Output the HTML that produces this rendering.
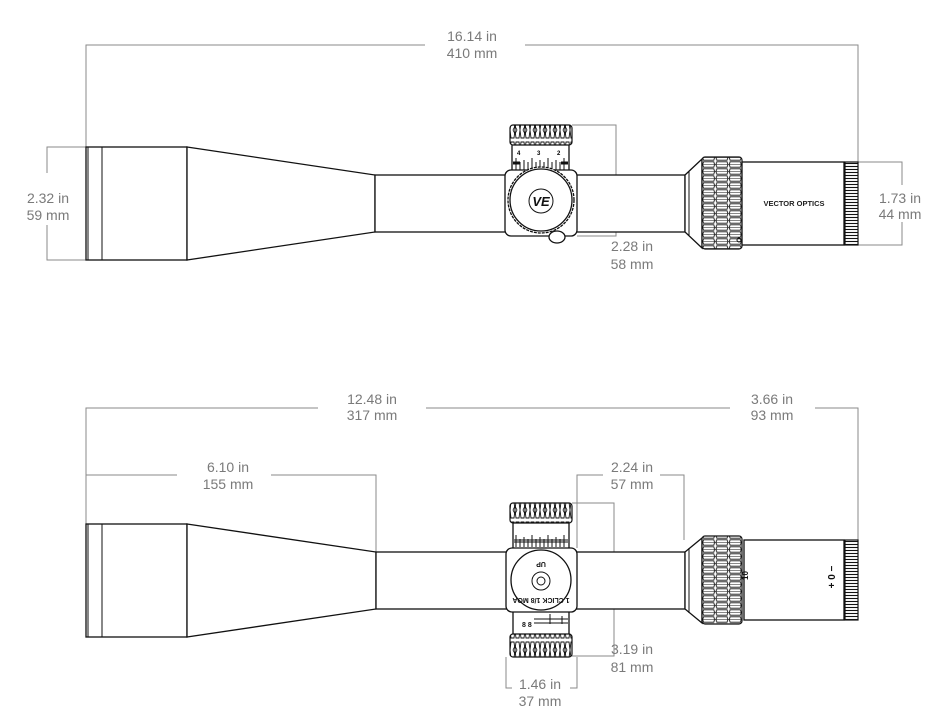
<!DOCTYPE html>
<html><head><meta charset="utf-8"><style>
html,body{margin:0;padding:0;background:#fff;}
svg{display:block;}
.t{font-family:"Liberation Sans",sans-serif;font-size:14px;fill:#7a7a7a;text-anchor:middle;}
.d{stroke:#8a8a8a;stroke-width:1;fill:none;}
.s{stroke:#111;stroke-width:1.3;fill:#fff;}
.n{stroke:#111;stroke-width:1;fill:none;}
</style></head><body>
<svg width="949" height="728" viewBox="0 0 949 728" xmlns="http://www.w3.org/2000/svg">
<defs>
<pattern id="kn" x="702" y="0" width="13.3" height="7" patternUnits="userSpaceOnUse">
<rect x="0" y="0" width="13.3" height="7" fill="#fff"/>
<path d="M1.5 0.8 L11.8 0.8 L12.6 3.5 L11.8 6.2 L1.5 6.2 L0.7 3.5 Z" fill="none" stroke="#111" stroke-width="0.9"/>
<line x1="0" y1="3.5" x2="13.3" y2="3.5" stroke="#111" stroke-width="0.5"/>
</pattern>
<pattern id="tk" x="0" y="0" width="10" height="20" patternUnits="userSpaceOnUse">
<rect width="10" height="20" fill="#fff"/>
<path d="M1 2 L4 2 L5 10 L4 18 L1 18 L0 10Z M6 2 L9 2 L10 10 L9 18 L6 18 L5 10Z" fill="none" stroke="#111" stroke-width="0.9"/>
<path d="M5 6 L7 10 L5 14 L3 10Z" fill="none" stroke="#111" stroke-width="0.8"/>
</pattern>
<pattern id="rr" x="0" y="0" width="13" height="3" patternUnits="userSpaceOnUse">
<rect width="13" height="3" fill="#fff"/>
<line x1="0" y1="1.5" x2="13" y2="1.5" stroke="#111" stroke-width="1.1"/>
</pattern>
</defs>

<!-- ===== TOP ===== -->
<path class="d" d="M86 147 V45 H425 M525 45 H858 V162"/>
<text class="t" x="472" y="41">16.14 in</text><text class="t" x="472" y="58">410 mm</text>
<path class="d" d="M86 147 H47 V173 M47 225 V260 H86"/>
<text class="t" x="48" y="203">2.32 in</text><text class="t" x="48" y="220">59 mm</text>
<path class="d" d="M858 162 H902 V185 M902 222 V245 H858"/>
<text class="t" x="900" y="203">1.73 in</text><text class="t" x="900" y="219">44 mm</text>
<path class="d" d="M572 125 H616 V236 H577"/>
<text class="t" x="632" y="251">2.28 in</text><text class="t" x="632" y="269">58 mm</text>

<!-- objective -->
<rect class="s" x="86" y="147" width="101" height="113"/>
<line class="n" x1="102" y1="147" x2="102" y2="260" stroke-width="1.5"/>
<line class="n" x1="88" y1="147" x2="88" y2="260"/>
<path class="s" d="M187 147 L375 175 L375 232 L187 260Z"/>
<rect class="s" x="375" y="175" width="310" height="57"/>
<!-- turret -->
<rect class="s" x="512" y="143" width="57" height="28"/>
<rect x="513" y="158" width="55" height="12" fill="#fff"/>
<g stroke="#111" stroke-width="1">
<path d="M516 170V158M520 170V162M524 170V160M528 170V162M532 170V158M536 170V162M540 170V160M544 170V162M548 170V158M552 170V162M556 170V160M560 170V162M564 170V158"/>
<path d="M513 163H520M561 163H568" stroke-width="3"/>
</g>
<text x="517" y="155" font-family="Liberation Sans,sans-serif" font-size="6" font-weight="bold">4</text>
<text x="537" y="155" font-family="Liberation Sans,sans-serif" font-size="6" font-weight="bold">3</text>
<text x="557" y="155" font-family="Liberation Sans,sans-serif" font-size="6" font-weight="bold">2</text>
<rect x="510" y="125" width="62" height="20" rx="3" fill="url(#tk)" stroke="#111" stroke-width="1.2"/>
<rect class="s" x="505" y="170" width="72" height="66" rx="6"/>
<circle class="s" cx="541" cy="200" r="33" stroke-dasharray="3 1"/>
<circle class="s" cx="541" cy="200" r="31"/>
<circle class="n" cx="541" cy="201" r="12" stroke-width="2"/>
<text x="541" y="206" font-family="Liberation Sans,sans-serif" font-size="13" font-weight="bold" font-style="italic" text-anchor="middle" fill="#111">VE</text>
<ellipse class="s" cx="557" cy="237" rx="8" ry="6"/>
<!-- eyepiece -->
<path class="s" d="M685 175 L702 159 L702 248 L685 232Z"/>
<line class="n" x1="689" y1="171" x2="689" y2="236"/>
<rect x="702" y="157" width="40" height="92" rx="3" fill="url(#kn)" stroke="#111" stroke-width="1.2"/>
<rect class="s" x="742" y="162" width="102" height="83"/>
<text x="794" y="206" font-family="Liberation Sans,sans-serif" font-size="7.5" font-weight="bold" text-anchor="middle" fill="#222">VECTOR OPTICS</text>
<rect x="845" y="162" width="13" height="83" fill="url(#rr)" stroke="#111" stroke-width="1.2"/>
<circle class="n" cx="739" cy="240" r="2"/>

<!-- ===== BOTTOM ===== -->
<path class="d" d="M86 524 V408 H318 M426 408 H684 M684 408 H730 M815 408 H858 V540"/>
<text class="t" x="372" y="404">12.48 in</text><text class="t" x="372" y="420">317 mm</text>
<text class="t" x="772" y="404">3.66 in</text><text class="t" x="772" y="420">93 mm</text>
<path class="d" d="M86 475 H177 M271 475 H376 V552"/>
<text class="t" x="228" y="472">6.10 in</text><text class="t" x="228" y="489">155 mm</text>
<path class="d" d="M577 548 V475 H603 M660 475 H684 V540"/>
<text class="t" x="632" y="472">2.24 in</text><text class="t" x="632" y="489">57 mm</text>
<path class="d" d="M572 503 H614 V656 H572"/>
<text class="t" x="632" y="654">3.19 in</text><text class="t" x="632" y="672">81 mm</text>
<path class="d" d="M506 657 V688 H512 M577 657 V688 H570"/>
<text class="t" x="540" y="689">1.46 in</text><text class="t" x="540" y="706">37 mm</text>

<rect class="s" x="86" y="524" width="101" height="113"/>
<line class="n" x1="102" y1="524" x2="102" y2="637" stroke-width="1.5"/>
<line class="n" x1="88" y1="524" x2="88" y2="637"/>
<path class="s" d="M187 524 L376 552 L376 609 L187 637Z"/>
<rect class="s" x="376" y="552" width="309" height="57"/>
<!-- turret -->
<rect class="s" x="513" y="522" width="56" height="27"/>
<g stroke="#111" stroke-width="1">
<path d="M516 547V535M520 547V539M524 547V537M528 547V539M532 547V535M536 547V539M540 547V537M544 547V539M548 547V535M552 547V539M556 547V537M560 547V539M564 547V535"/>
<path d="M514 541H568" stroke-width="4" stroke-opacity="0.5"/>
</g>
<rect x="510" y="503" width="62" height="20" rx="3" fill="url(#tk)" stroke="#111" stroke-width="1.2"/>
<rect class="s" x="513" y="611" width="56" height="24"/>
<path class="n" d="M534 619 H568 M534 623 H568 M550 614 V624 M562 616 V624"/>
<text x="522" y="627" font-family="Liberation Sans,sans-serif" font-size="7" font-weight="bold" fill="#111">8 8</text>
<rect x="510" y="634" width="62" height="23" rx="3" fill="url(#tk)" stroke="#111" stroke-width="1.2"/>
<rect class="s" x="506" y="548" width="71" height="64" rx="6"/>
<circle class="s" cx="541" cy="580" r="30" stroke-width="2"/>
<circle class="n" cx="541" cy="581" r="9" stroke-width="1.5"/>
<circle class="n" cx="541" cy="581" r="4"/>
<text x="541" y="566" font-family="Liberation Sans,sans-serif" font-size="7" font-weight="bold" text-anchor="middle" fill="#111" transform="rotate(180 541 564)">UP</text>
<text x="541" y="602" font-family="Liberation Sans,sans-serif" font-size="7" font-weight="bold" text-anchor="middle" fill="#111" transform="rotate(180 541 600)">1 CLICK 1/8 MOA</text>
<!-- eyepiece -->
<path class="s" d="M685 552 L702 538 L702 623 L685 609Z"/>
<line class="n" x1="689" y1="548" x2="689" y2="613"/>
<rect x="702" y="536" width="40" height="88" rx="3" fill="url(#kn)" stroke="#111" stroke-width="1.2"/>
<rect class="s" x="744" y="540" width="100" height="80"/>
<text x="745" y="583" font-family="Liberation Sans,sans-serif" font-size="8" font-weight="bold" fill="#111" transform="rotate(-90 745 580)">10</text>
<text x="837" y="581" font-family="Liberation Sans,sans-serif" font-size="10" font-weight="bold" fill="#111" text-anchor="middle" transform="rotate(-90 834 580)">+ 0 −</text>
<rect x="845" y="540" width="13" height="80" fill="url(#rr)" stroke="#111" stroke-width="1.2"/>
</svg>
</body></html>
